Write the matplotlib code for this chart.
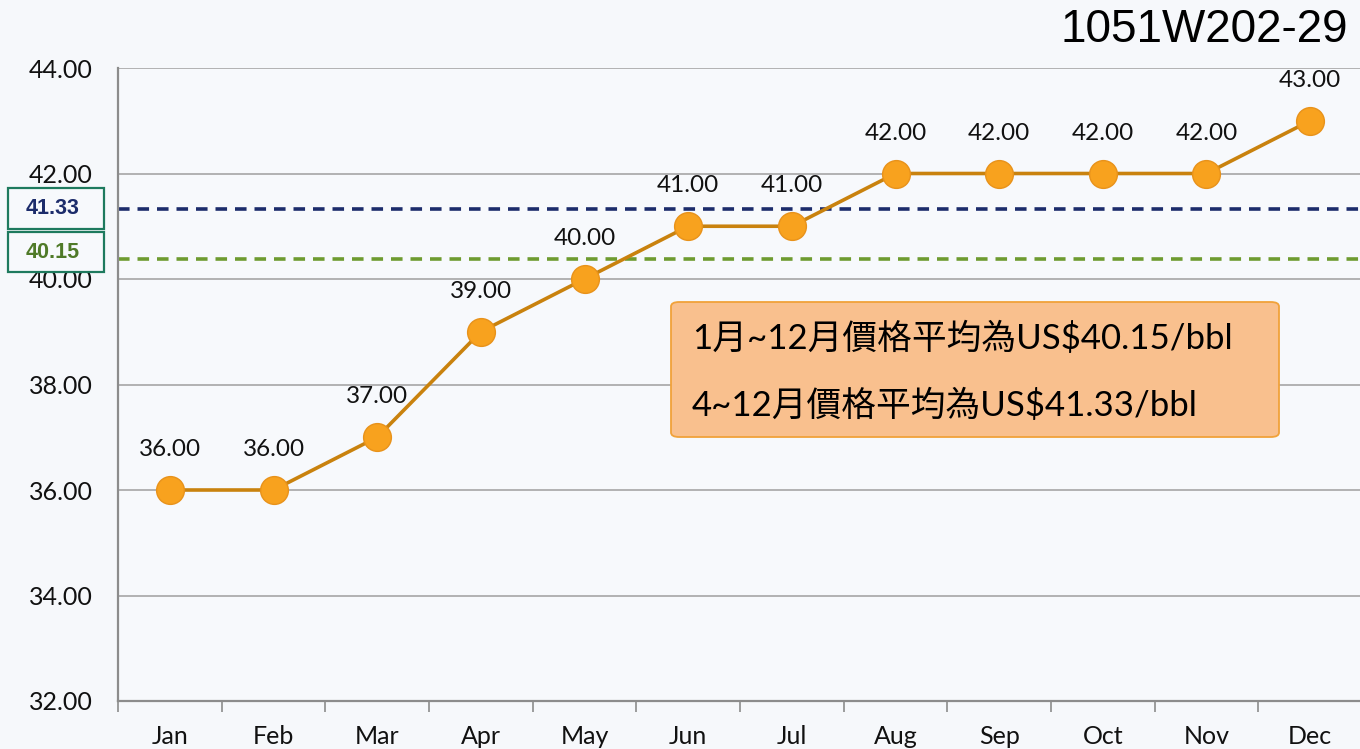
import matplotlib
matplotlib.use("Agg")
import matplotlib.pyplot as plt
from matplotlib.patches import FancyBboxPatch, Rectangle

# ── datos ────────────────────────────────────────────────
meses = ["Jan", "Feb", "Mar", "Apr", "May", "Jun",
         "Jul", "Aug", "Sep", "Oct", "Nov", "Dec"]
precios = [36, 36, 37, 39, 40, 41, 41, 42, 42, 42, 42, 43]
y_ticks = [32, 34, 36, 38, 40, 42, 44]

prom_4_12 = 41.33        # promedio abr-dic
prom_1_12 = 40.15        # promedio ene-dic (etiqueta)
prom_1_12_linea = 40.37  # posición dibujada de la línea en la imagen
titulo = "1051W202-29"
texto_caja = ["1月~12月價格平均為US$40.15/bbl",
              "4~12月價格平均為US$41.33/bbl"]

FUENTE = ["Lato", "Noto Sans CJK TC", "DejaVu Sans"]
plt.rcParams["font.family"] = FUENTE

fig = plt.figure(figsize=(13.6, 7.49), dpi=100)
fig.patch.set_facecolor("#F6F8FB")
ax = fig.add_axes([118 / 1360, 48 / 749, 1244 / 1360, 633 / 749])
ax.set_facecolor("#F7F9FC")

x = list(range(len(meses)))
ax.plot(x, precios, color="#C9820E", lw=2.6, zorder=3)
ax.plot(x, precios, "o", ms=20, mfc="#F8A21E", mec="#E8921A", mew=1, zorder=4)

for xi, v in zip(x, precios):
    ax.annotate(f"{v:.2f}", (xi, v), xytext=(0, 29), textcoords="offset points",
                ha="center", va="center", fontsize=17.5, color="#111111")

# líneas de promedio
ax.axhline(prom_4_12, color="#1C2C6B", lw=2.6, ls=(0, (3.2, 2.2)), zorder=2)
ax.axhline(prom_1_12_linea, color="#6E9B30", lw=2.6, ls=(0, (3.2, 2.2)), zorder=2)

ax.set_xlim(-0.5, 11.5)
ax.set_ylim(32, 44)
ax.set_yticks(y_ticks)
ax.set_yticklabels([f"{t:.2f}" for t in y_ticks], fontsize=18, color="#111111")
ax.set_xticks(x)
ax.set_xticklabels(meses, fontsize=18, color="#111111")
ax.set_xticks([i - 0.5 for i in range(13)], minor=True)
ax.tick_params(axis="x", which="major", length=0, pad=17)
ax.tick_params(axis="x", which="minor", length=8, color="#8C8C8C", width=1.2)
ax.tick_params(axis="y", length=0, pad=18)
ax.yaxis.grid(True, color="#A6A6A6", lw=1.2)
ax.set_axisbelow(True)
for lado in ["top", "right"]:
    ax.spines[lado].set_visible(False)
ax.spines["left"].set_color("#8C8C8C")
ax.spines["left"].set_linewidth(1.6)
ax.spines["bottom"].set_color("#8C8C8C")
ax.spines["bottom"].set_linewidth(1.6)

# caja naranja con texto
caja = FancyBboxPatch((671 / 1360, (749 - 437) / 749), 608 / 1360, 135 / 749,
                      boxstyle="round,pad=0,rounding_size=0.006",
                      transform=fig.transFigure, facecolor="#F9C08E",
                      edgecolor="#F1A23A", lw=1.3, zorder=5)
fig.patches.append(caja)
fig.text(692 / 1360, (749 - 338) / 749, texto_caja[0], fontsize=25,
         va="center", ha="left", family=FUENTE, zorder=6)
fig.text(692 / 1360, (749 - 405) / 749, texto_caja[1], fontsize=25,
         va="center", ha="left", family=FUENTE, zorder=6)

# etiquetas de promedio a la izquierda
for (y0, alto, txt, col) in [(188, 41, f"{prom_4_12:.2f}", "#1C2C6B"),
                            (232, 40, f"{prom_1_12:.2f}", "#4F7A28")]:
    fig.patches.append(Rectangle((8 / 1360, (749 - y0 - alto) / 749), 96 / 1360,
                                 alto / 749, transform=fig.transFigure,
                                 facecolor="#F7F9FC", edgecolor="#1E7A5E",
                                 lw=1.6, zorder=5))
    fig.text(53 / 1360, (749 - y0 - alto / 2) / 749, txt, fontsize=15.5,
             fontweight="bold", color=col, ha="center", va="center",
             family=["Liberation Sans"], zorder=6)

fig.text(1348 / 1360, (749 - 30) / 749, titulo, fontsize=33, ha="right",
         va="center", family=["Liberation Sans"], color="#000000")

fig.savefig("out.png", dpi=100, facecolor=fig.get_facecolor())
